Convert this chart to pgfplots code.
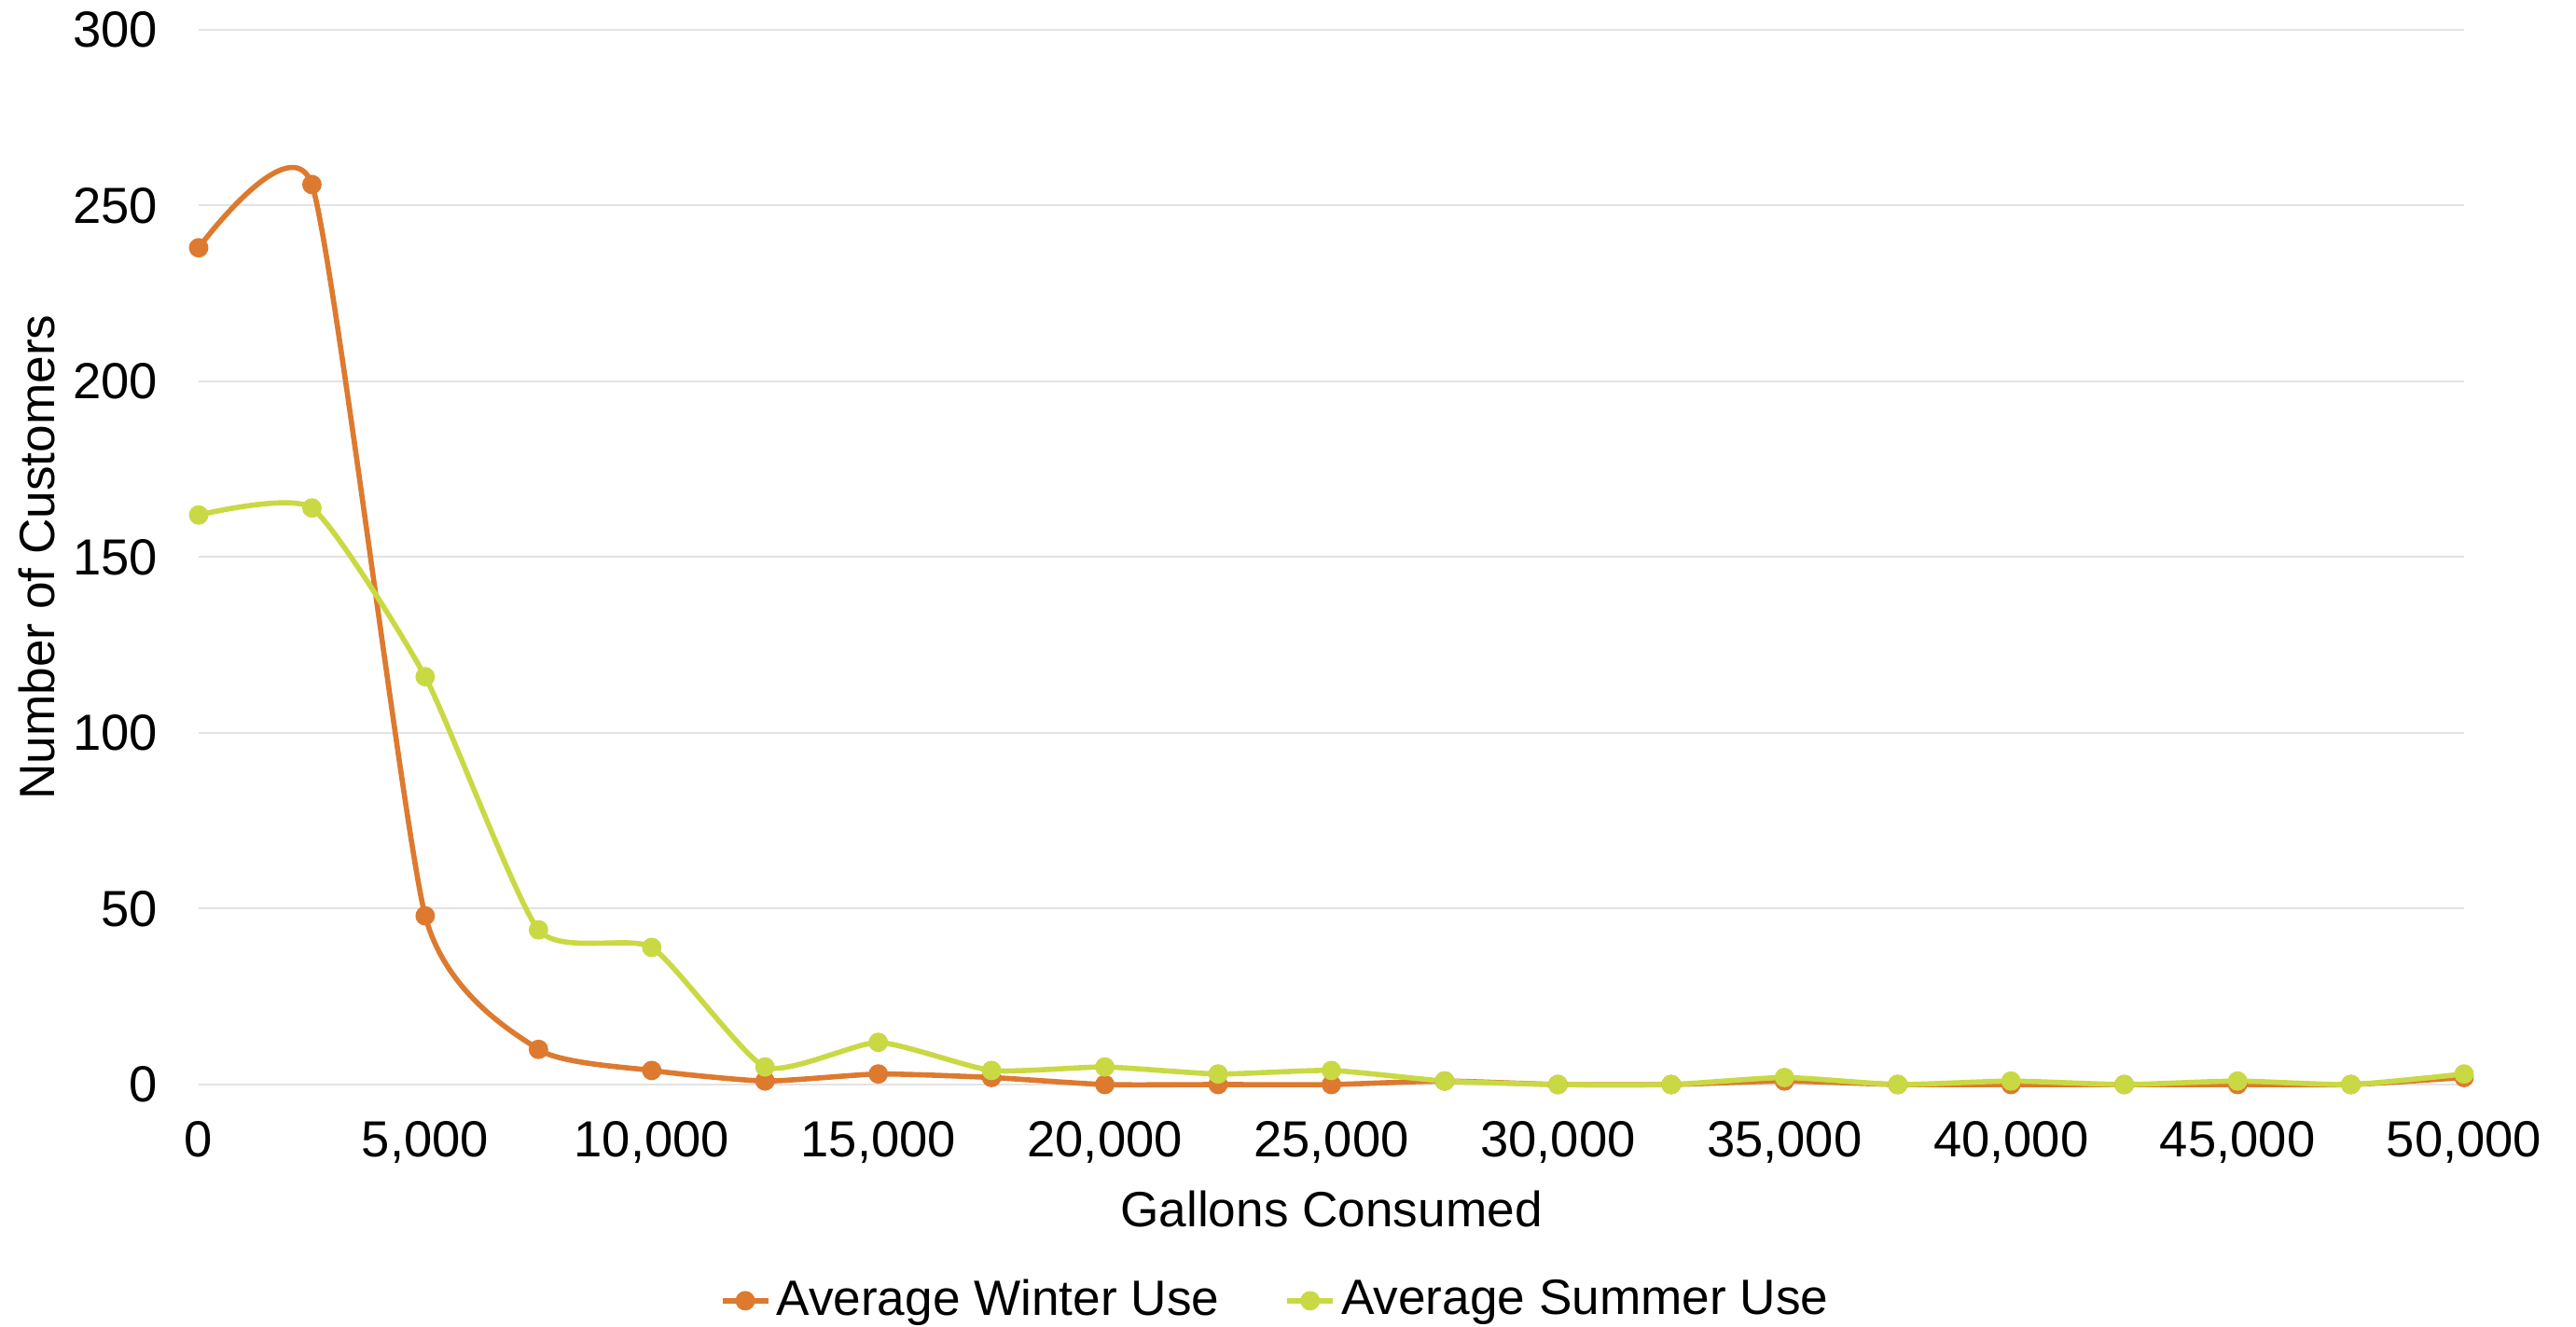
\documentclass[border=0pt]{standalone}
\usepackage{fontspec}
\setmainfont{Liberation Sans}
\usepackage{pgfplots}
\pgfplotsset{compat=1.18}
\definecolor{winter}{HTML}{DD7A2F}
\definecolor{summer}{HTML}{C9D944}
\definecolor{gridc}{HTML}{E3E3E3}
\begin{document}
\fontsize{13.3}{16}\selectfont
\begin{tikzpicture}
\path[use as bounding box] (0,0) rectangle (690.5pt,355.75pt);
\begin{axis}[
  at={(53.25pt,65pt)}, anchor=south west,
  scale only axis, width=607.25pt, height=282.75pt,
  xmin=0, xmax=50000, ymin=0, ymax=300,
  axis line style={draw=none},
  clip=false,
  xtick={0,5000,...,50000}, ytick={0,50,...,300},
  major tick length=0pt,
  ymajorgrids, grid style={gridc, line width=0.5pt},
  scaled x ticks=false,
  /pgf/number format/assume math mode=true,
  /pgf/number format/1000 sep={,},
  tick label style={font=\fontsize{13.6}{16}\selectfont, inner sep=0pt},
  xticklabel style={anchor=base, yshift=-19.5pt},
  yticklabel style={anchor=base east, xshift=-10.75pt, yshift=-4.75pt},
  xlabel={Gallons Consumed},
  ylabel={Number of Customers},
  label style={font=\fontsize{13.3}{16}\selectfont, inner sep=0pt},
  xlabel style={at={(axis description cs:0.5,0)}, anchor=base, yshift=-38pt},
  ylabel style={at={(axis description cs:-0.0716,0.5)}, anchor=center},
  legend columns=2,
  legend style={at={(0.476,-0.205)}, anchor=center, draw=none, fill=none,
    nodes={inner sep=1.5pt},
    font=\fontsize{13.3}{16}\selectfont, /tikz/every even column/.append style={column sep=16pt}},
  legend image code/.code={\draw[#1, mark repeat=2, mark phase=2] plot coordinates {(0pt,0pt) (6.1pt,0pt) (12.25pt,0pt)};},
]
\addplot[winter, line width=1.4pt, smooth, tension=0.333, mark=*, mark size=1.9pt, mark options={solid}] coordinates {
(0,238) (2500,256) (5000,48) (7500,10) (10000,4) (12500,1) (15000,3) (17500,2) (20000,0) (22500,0) (25000,0) (27500,1) (30000,0) (32500,0) (35000,1) (37500,0) (40000,0) (42500,0) (45000,0) (47500,0) (50000,2)};
\addlegendentry{Average Winter Use}
\addplot[summer, line width=1.4pt, smooth, tension=0.333, mark=*, mark size=1.9pt, mark options={solid}] coordinates {
(0,162) (2500,164) (5000,116) (7500,44) (10000,39) (12500,5) (15000,12) (17500,4) (20000,5) (22500,3) (25000,4) (27500,1) (30000,0) (32500,0) (35000,2) (37500,0) (40000,1) (42500,0) (45000,1) (47500,0) (50000,3)};
\addlegendentry{Average Summer Use}
\end{axis}
\end{tikzpicture}
\end{document}
